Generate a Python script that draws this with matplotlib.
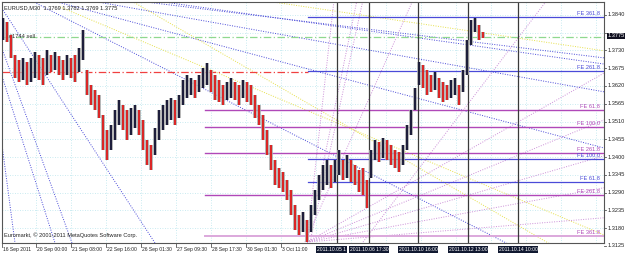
import matplotlib
matplotlib.use('Agg')
import matplotlib.pyplot as plt
import numpy as np
from matplotlib.transforms import blended_transform_factory

# ---------------- data ----------------
# aggregated M30 price columns (high / low), one column per slot
highs = [1.3831, 1.3818, 1.3778, 1.3716, 1.3701, 1.3707, 1.3695, 1.3707, 1.3725, 1.3716,
         1.3707, 1.3732, 1.3716, 1.3725, 1.3713, 1.3701, 1.3716, 1.3707, 1.3716, 1.3738,
         1.3794, 1.3670, 1.3623, 1.3608, 1.3592, 1.3530, 1.3484, 1.3500, 1.3546, 1.3577,
         1.3561, 1.3546, 1.3552, 1.3561, 1.3546, 1.3515, 1.3453, 1.3438, 1.3490, 1.3546,
         1.3561, 1.3577, 1.3583, 1.3577, 1.3592, 1.3639, 1.3654, 1.3645, 1.3639, 1.3654,
         1.3676, 1.3691, 1.3670, 1.3654, 1.3639, 1.3623, 1.3633, 1.3645, 1.3633, 1.3623,
         1.3639, 1.3633, 1.3623, 1.3592, 1.3561, 1.3530, 1.3484, 1.3438, 1.3391, 1.3366,
         1.3354, 1.3329, 1.3298, 1.3252, 1.3221, 1.3230, 1.3206, 1.3252, 1.3298, 1.3345,
         1.3376, 1.3391, 1.3376, 1.3391, 1.3422, 1.3391, 1.3407, 1.3391, 1.3376, 1.3360,
         1.3366, 1.3329, 1.3422, 1.3453, 1.3447, 1.3459, 1.3453, 1.3438, 1.3422, 1.3416,
         1.3438, 1.3500, 1.3546, 1.3614, 1.3695, 1.3685, 1.3670, 1.3654, 1.3664, 1.3645,
         1.3633, 1.3623, 1.3639, 1.3645, 1.3623, 1.3670, 1.3763, 1.3825, 1.3831, 1.3809,
         1.3787]
lows = [1.3763, 1.3756, 1.3707, 1.3645, 1.3633, 1.3639, 1.3623, 1.3633, 1.3645, 1.3639,
        1.3623, 1.3654, 1.3664, 1.3670, 1.3654, 1.3639, 1.3654, 1.3645, 1.3633, 1.3664,
        1.3701, 1.3592, 1.3561, 1.3546, 1.3521, 1.3422, 1.3391, 1.3422, 1.3453, 1.3500,
        1.3484, 1.3453, 1.3469, 1.3490, 1.3469, 1.3422, 1.3376, 1.3360, 1.3407, 1.3453,
        1.3484, 1.3500, 1.3515, 1.3500, 1.3521, 1.3561, 1.3583, 1.3592, 1.3583, 1.3602,
        1.3614, 1.3623, 1.3602, 1.3577, 1.3571, 1.3561, 1.3577, 1.3583, 1.3577, 1.3561,
        1.3583, 1.3571, 1.3561, 1.3521, 1.3500, 1.3453, 1.3407, 1.3360, 1.3314, 1.3305,
        1.3292, 1.3267, 1.3221, 1.3175, 1.3159, 1.3169, 1.3137, 1.3169, 1.3221, 1.3267,
        1.3298, 1.3314, 1.3305, 1.3323, 1.3345, 1.3329, 1.3336, 1.3323, 1.3314, 1.3292,
        1.3283, 1.3243, 1.3336, 1.3391, 1.3385, 1.3397, 1.3391, 1.3376, 1.3366, 1.3354,
        1.3376, 1.3422, 1.3469, 1.3546, 1.3623, 1.3614, 1.3592, 1.3602, 1.3608, 1.3583,
        1.3571, 1.3577, 1.3583, 1.3592, 1.3561, 1.3602, 1.3654, 1.3747, 1.3787, 1.3763,
        1.3769]

x_ticks = [-0.25, 8.25, 17.0, 25.75, 34.5, 43.25, 52.0, 60.75, 69.5]
x_labels = ["16 Sep 2011", "20 Sep 00:00", "21 Sep 08:00", "22 Sep 16:00", "26 Sep 01:30",
            "27 Sep 09:30", "28 Sep 17:30", "30 Sep 01:30", "3 Oct 11:00"]
grid_x = [8.25 + 8.75 * k for k in range(17)]

y_ticks = [1.3840, 1.3785, 1.3730, 1.3675, 1.3620, 1.3565, 1.3510, 1.3455, 1.3400,
           1.3345, 1.3290, 1.3235, 1.3180, 1.3125]
current_price = 1.3775

vline_x = [83.5, 91.5, 103.75, 116.25, 128.75]
vline_labels = ["2011.10.05 1", "2011.10.06 17:30", "2011.10.10 16:00",
                "2011.10.12 13:00", "2011.10.14 10:00"]

# Fibonacci expansion levels
fe_blue_levels = [1.3834, 1.3667, 1.3394, 1.3323]
fe_blue_names = ["FE 361.8", "FE 261.8", "FE 100.0", "FE 61.8"]
fe_purple_levels = [1.3546, 1.3493, 1.3413, 1.3283, 1.3156]
fe_purple_names = ["FE 61.8", "FE 100.0", "FE 261.8", "FE 261.8", "FE 361.8"]
blue_start = 76.25
purple_start = 50.5

sell_level = 1.3772
red_level = 1.3664

# trend / fan lines : (x0, p0, x1, p1)
blue_fans = [(31.75, 1.3886, 150.25, 1.3707), (36.75, 1.3886, 150.25, 1.3688),
             (23.75, 1.3880, 150.25, 1.3602), (11.75, 1.3886, 150.25, 1.3428),
             (0.0, 1.3855, 38.0, 1.3134), (-0.75, 1.3753, 17.25, 1.3134),
             (-0.75, 1.3670, 13.0, 1.3134), (-0.75, 1.3484, 3.0, 1.3134),
             (6.75, 1.3886, 126.75, 1.3128)]
yellow_fans = [(64.25, 1.3886, 150.25, 1.3729), (14.25, 1.3865, 150.25, 1.3159),
               (31.75, 1.3886, 139.25, 1.3113)]
purple_fans = [(76.0, 1.3137, 150.25, 1.3212), (76.0, 1.3137, 150.25, 1.3305),
               (76.0, 1.3137, 150.25, 1.3404), (76.0, 1.3137, 150.25, 1.3515),
               (76.0, 1.3137, 150.25, 1.3660), (76.0, 1.3137, 82.75, 1.3886),
               (76.0, 1.3137, 88.5, 1.3886), (76.75, 1.3137, 90.0, 1.3886),
               (75.5, 1.3137, 102.5, 1.3886), (90.0, 1.3137, 136.0, 1.3886)]

# ---------------- figure ----------------
plt.rcParams['font.family'] = ['Liberation Sans', 'DejaVu Sans']
W, H = 625, 258
fig = plt.figure(figsize=(W / 100, H / 100), dpi=100)
ax = fig.add_axes([2 / W, (H - 243) / H, (604 - 2) / W, (243 - 2) / H])
ax.set_xlim(-0.25, 150.25)
ax.set_ylim(1.3134, 1.3880)
ax.set_facecolor('white')

FS = 4.1
FSX = 3.6
for s in ax.spines.values():
    s.set_color('#555555')
    s.set_linewidth(0.8)

ax.set_xticks([])
ax.set_yticks([])

# grid
for gx in grid_x:
    ax.axvline(gx, color='#b8e4ec', lw=0.6, ls=(0, (1, 2)), zorder=0)
for gy in y_ticks:
    ax.axhline(gy, color='#b8e4ec', lw=0.6, ls=(0, (1, 2)), zorder=0)

# fan lines
for (x0, p0, x1, p1) in blue_fans:
    ax.plot([x0, x1], [p0, p1], color='#4a4ad8', lw=0.7, ls=(0, (1, 1.5)), zorder=1)
for (x0, p0, x1, p1) in yellow_fans:
    ax.plot([x0, x1], [p0, p1], color='#e6e04a', lw=0.7, ls=(0, (1, 1.5)), zorder=1)
for (x0, p0, x1, p1) in purple_fans:
    ax.plot([x0, x1], [p0, p1], color='#cc90d8', lw=0.7, ls=(0, (1, 1.5)), zorder=1)

# horizontal levels
ax.axhline(sell_level, color='#8fd88f', lw=0.9, ls=(0, (6, 2, 1, 2)), zorder=2)
ax.plot([-0.25, blue_start], [red_level, red_level], color='#f04040', lw=0.9,
        ls=(0, (6, 2, 1, 2)), zorder=2)
for lv in fe_blue_levels:
    ax.plot([blue_start, 150.25], [lv, lv], color='#4a4ad8', lw=0.9, zorder=2)
for i, lv in enumerate(fe_purple_levels):
    c = '#dca8dc' if i == len(fe_purple_levels) - 1 else '#b048b8'
    ax.plot([purple_start, 150.25], [lv, lv], color=c, lw=1.0 if i < 4 else 1.4, zorder=2)

# vertical lines
for vx in vline_x:
    ax.axvline(vx, color='#3a3a3a', lw=0.9, zorder=2)

# price columns
idx = np.arange(len(highs))
mids = (np.array(highs) + np.array(lows)) / 2
colors = []
for i in idx:
    prev = mids[i - 1] if i > 0 else mids[i]
    colors.append('#e01818' if mids[i] < prev else '#101030')
ax.vlines(idx, lows, highs, colors='#a8a8a8', lw=2.6, zorder=3)
ax.vlines(idx, lows, highs, colors=colors, lw=1.3, zorder=4)

# FE labels
for lv, nm in zip(fe_blue_levels, fe_blue_names):
    ax.text(149.3, lv + 0.0003, nm, color='#4a4ad8', fontsize=FS, ha='right', va='bottom', zorder=5)
for i, (lv, nm) in enumerate(zip(fe_purple_levels, fe_purple_names)):
    ax.text(149.3, lv + 0.0003, nm, color='#b048b8', fontsize=FS, ha='right', va='bottom', zorder=5)

# texts
ax.text(0.004, 0.985, "EURUSD,M30  1.3769 1.3782 1.3769 1.3775", transform=ax.transAxes,
        fontsize=FS, color='#222222', va='top', ha='left')
ax.text(1.5, sell_level + 0.0002, "#1744 sell", fontsize=FS, color='#333333', va='center', ha='left')
ax.text(0.004, 0.02, "Euromarkt, \u00a9 2001-2011 MetaQuotes Software Corp.", transform=ax.transAxes,
        fontsize=FS, color='#222222', va='bottom', ha='left')

# right price axis
ty = blended_transform_factory(ax.transAxes, ax.transData)
for yt in y_ticks:
    ax.plot([1.0, 1.004], [yt, yt], transform=ty, color='#555555', lw=0.6, clip_on=False)
    if abs(yt - current_price) < 0.0015:
        continue  # hidden behind the current-price box
    ax.text(1.006, yt, f"{yt:.4f}", transform=ty, fontsize=FS, va='center', ha='left',
            color='#222222', clip_on=False)
ax.text(1.006, current_price, f"{current_price:.4f}", transform=ty, fontsize=FS, va='center',
        ha='left', color='white', clip_on=False,
        bbox=dict(boxstyle='square,pad=0.1', fc='#101020', ec='none'))

# bottom time axis
tx = blended_transform_factory(ax.transData, ax.transAxes)
for xt, lb in zip(x_ticks, x_labels):
    ax.text(xt + 0.3, -0.018, lb, transform=tx, fontsize=FSX, va='top', ha='left',
            color='#222222', clip_on=False)
    ax.plot([xt, xt], [0, -0.015], transform=tx, color='#555555', lw=0.6, clip_on=False)
for k, (vx, lb) in enumerate(zip(vline_x, vline_labels)):
    xpos = 78.6 if k == 0 else vx
    ax.text(xpos, -0.015, lb, transform=tx, fontsize=FSX, va='top',
            ha='left' if k == 0 else 'center', color='white', zorder=6 + k,
            clip_on=False, bbox=dict(boxstyle='square,pad=0.2', fc='#101830', ec='none'))

fig.savefig('out.png', dpi=100)
